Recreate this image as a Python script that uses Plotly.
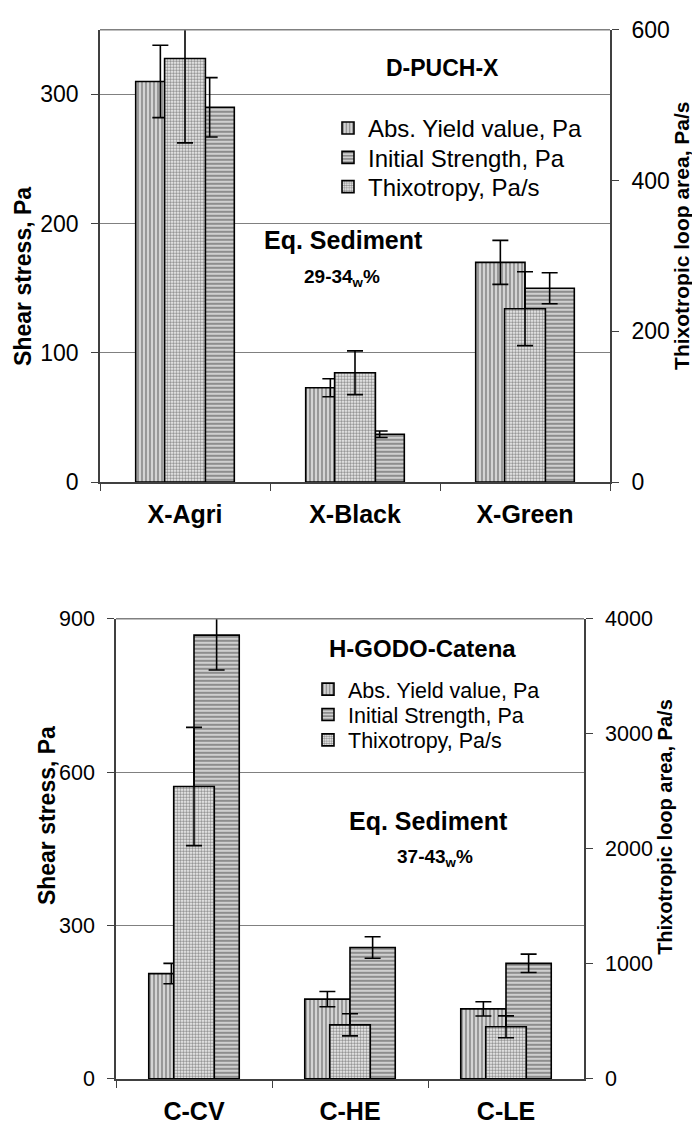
import plotly.graph_objects as go

# ---------------- data ----------------
top_categories = ["X-Agri", "X-Black", "X-Green"]
top_yield = [310, 73, 170]
top_yield_err = [28, 7, 17]
top_strength = [290, 37, 150]
top_strength_err = [23, 2.5, 12]
top_thixo = [562, 145, 230]
top_thixo_err = [112, 29, 49]

bot_categories = ["C-CV", "C-HE", "C-LE"]
bot_yield = [206, 156, 137]
bot_yield_err = [20, 15, 14]
bot_strength = [868, 257, 226]
bot_strength_err = [68, 21, 18]
bot_thixo = [2542, 470, 453]
bot_thixo_err = [514, 96, 95]

series_names = ["Abs. Yield value, Pa", "Initial Strength, Pa", "Thixotropy, Pa/s"]

# page body has an 8px margin: figure is sized to fit the window
OFF = 8
W, H = 700 - 2 * OFF, 1137 - 2 * OFF
FONT = "Liberation Sans, Arial, sans-serif"

def px(v):
    return (v - OFF) / W

def py(v):
    return 1 - (v - OFF) / H

pat_vert = dict(shape="|", bgcolor="#d4d4d4", fgcolor="#2a2a2a", size=4, solidity=0.35)
pat_horz = dict(shape="-", bgcolor="#cfcfcf", fgcolor="#2a2a2a", size=4, solidity=0.4)
pat_dot = dict(shape=".", bgcolor="#ffffff", fgcolor="#222222", size=3, solidity=0.6)

line = dict(color="black", width=1.6)
def err(a):
    return dict(type="data", array=a, color="black", thickness=1.6, width=8)

fig = go.Figure()

def add_chart(cats, yv, ye, sv, se, tv, te, xa, ya, ya2, legs, wp, ws):
    fig.add_trace(go.Bar(x=cats, y=yv, error_y=err(ye), name=series_names[0],
                         marker=dict(color="#d4d4d4", pattern=pat_vert, line=line),
                         offset=-wp, width=wp, xaxis=xa, yaxis=ya, legend=legs[0],
                         showlegend=True))
    fig.add_trace(go.Bar(x=cats, y=sv, error_y=err(se), name=series_names[1],
                         marker=dict(color="#cfcfcf", pattern=pat_horz, line=line),
                         offset=0, width=wp, xaxis=xa, yaxis=ya, legend=legs[1],
                         showlegend=True))
    fig.add_trace(go.Bar(x=cats, y=tv, error_y=err(te), name=series_names[2],
                         marker=dict(color="#ffffff", pattern=pat_dot, line=line),
                         offset=-ws / 2, width=ws, xaxis=xa, yaxis=ya2, legend=legs[2],
                         showlegend=True))

add_chart(top_categories, top_yield, top_yield_err, top_strength, top_strength_err,
          top_thixo, top_thixo_err, "x", "y", "y2", ["legend", "legend2", "legend3"], 0.29, 0.24)
add_chart(bot_categories, bot_yield, bot_yield_err, bot_strength, bot_strength_err,
          bot_thixo, bot_thixo_err, "x2", "y3", "y4", ["legend4", "legend5", "legend6"], 0.29, 0.26)

axcol = "#404040"

def yax(dom, rng, dtick, anchor, fsize, side="left", overlay=None, grid=True):
    d = dict(domain=dom, range=rng, dtick=dtick, anchor=anchor, side=side,
             showline=True, linecolor=axcol, linewidth=1.6,
             ticks="outside", ticklen=7, tickcolor=axcol, tickwidth=1.4,
             tickfont=dict(family=FONT, size=fsize, color="black"), ticklabelstandoff=8,
             showgrid=grid, gridcolor="#808080", gridwidth=1.2,
             zeroline=False, fixedrange=True)
    if overlay:
        d["overlaying"] = overlay
    return d

def yin(dom, rng, dtick, anchor, overlay, side="left"):
    return dict(domain=dom, range=rng, dtick=dtick, anchor=anchor, overlaying=overlay,
                side=side, ticks="inside", ticklen=7, tickcolor=axcol, tickwidth=1.4,
                showticklabels=False, showgrid=False, zeroline=False, showline=False)

def xax(dom, anchor, cats):
    return dict(domain=dom, anchor=anchor, type="category", range=[-0.5, 2.5],
                tickmode="array", tickvals=cats, ticktext=[f"<b>{c}</b>" for c in cats],
                showline=True, linecolor=axcol, linewidth=1.6,
                ticks="outside", ticklen=7, tickcolor=axcol, tickwidth=1.4,
                tickson="boundaries", tickfont=dict(family=FONT, size=25, color="black"),
                ticklabelstandoff=9, showgrid=False, zeroline=False, fixedrange=True)

def leg(x, y, size):
    return dict(x=px(x), y=py(y), xanchor="left", yanchor="middle", visible=True,
                font=dict(family=FONT, size=size, color="black"),
                bgcolor="rgba(0,0,0,0)", itemwidth=30)

top_dom = [py(480), py(17)]
bot_dom = [py(1091), py(620)]

fig.update_layout(
    width=W, height=H, margin=dict(l=0, r=0, t=0, b=0),
    paper_bgcolor="white", plot_bgcolor="white", showlegend=True,
    barmode="overlay", font=dict(family=FONT, color="black"),
    xaxis=xax([px(100), px(610)], "y", top_categories),
    yaxis=yax(top_dom, [0, 350], 100, "x", 23),
    yaxis2=yax(top_dom, [0, 600], 200, "x", 23, side="right", overlay="y", grid=False),
    xaxis2=xax([px(116), px(584)], "y3", bot_categories),
    yaxis3=yax(bot_dom, [0, 900], 300, "x2", 21.5),
    yaxis4=yax(bot_dom, [0, 4000], 1000, "x2", 21.5, side="right", overlay="y3", grid=False),
    yaxis5=yin(top_dom, [0, 350], 100, "x", "y"),
    yaxis6=yin(top_dom, [0, 600], 200, "x", "y", side="right"),
    yaxis7=yin(bot_dom, [0, 900], 300, "x2", "y3"),
    yaxis8=yin(bot_dom, [0, 4000], 1000, "x2", "y3", side="right"),
    legend=leg(328, 118, 24),
    legend2=leg(328, 148, 24),
    legend3=leg(328, 178, 24),
    legend4=leg(308, 692, 21.5),
    legend5=leg(308, 718, 21.5),
    legend6=leg(308, 744, 21.5),
)

# top border lines of plot areas
for xr, yr in [("x", "y"), ("x2", "y3")]:
    fig.add_shape(type="line", xref=f"{xr} domain", yref=f"{yr} domain",
                  x0=0, x1=1, y0=1, y1=1, line=dict(color="#808080", width=1.4))

def ann(text, x, y, size, angle=0):
    fig.add_annotation(text=f"<b>{text}</b>", x=px(x), y=py(y),
                       xref="paper", yref="paper", showarrow=False,
                       xanchor="center", yanchor="middle", textangle=angle,
                       font=dict(family=FONT, size=size, color="black"))

# axis titles
ann("Shear stress, Pa", 23, 270, 23, angle=-90)
ann("Thixotropic loop area, Pa/s", 682, 228, 21, angle=-90)
ann("Shear stress, Pa", 47, 822, 23, angle=-90)
ann("Thixotropic loop area, Pa/s", 665, 833, 20, angle=-90)

# chart texts
ann("D-PUCH-X", 442, 56, 23)
ann("Eq. Sediment", 343, 232, 25)
ann("29-34<sub>w</sub>%", 342, 271, 19)
ann("H-GODO-Catena", 422, 650, 24)
ann("Eq. Sediment", 428, 827, 25)
ann("37-43<sub>w</sub>%", 435, 865, 19)

fig.write_html("out.html")
